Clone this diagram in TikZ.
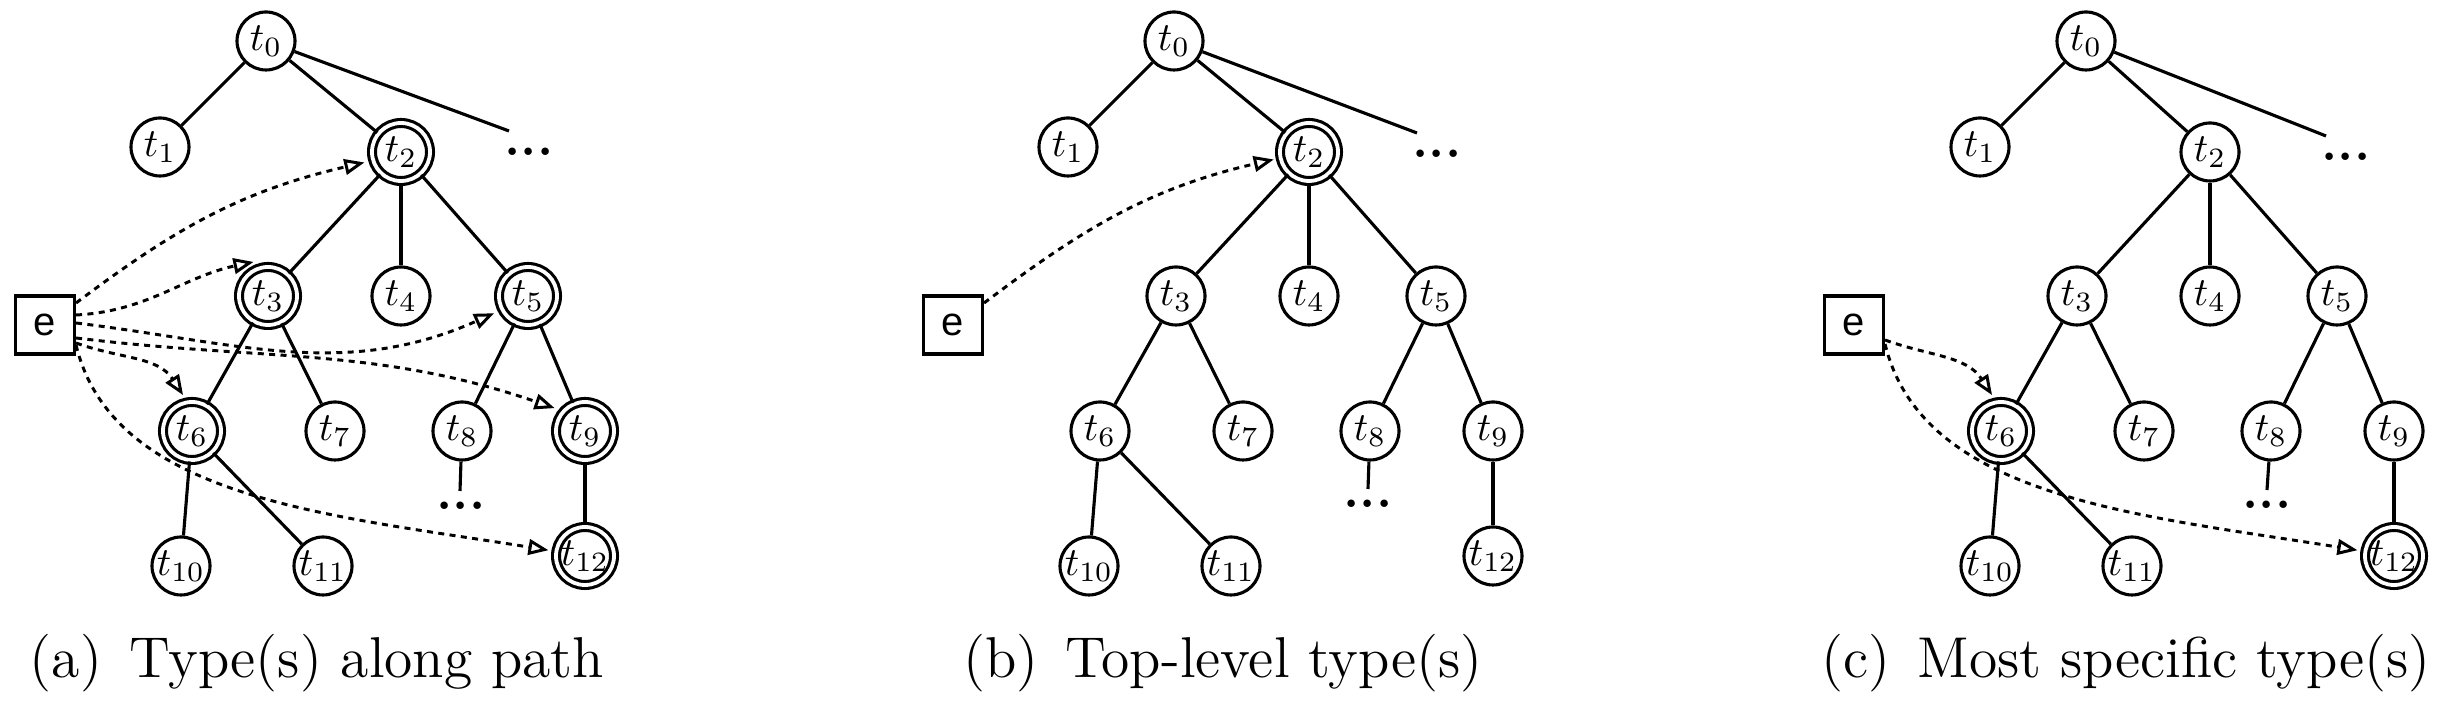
\documentclass[tikz,border=0pt]{standalone}
\usepackage{fontspec}
\newfontfamily\arialfont{Liberation Sans}
\usetikzlibrary{arrows.meta,calc}
\begin{document}
\begin{tikzpicture}[x=0.25pt,y=0.25pt,
  tn/.style={circle,draw,line width=0.78pt,minimum size=14.5pt,inner sep=0pt,font=\fontsize{10}{12}\selectfont},
  td/.style={tn,double,double distance=0.95pt},
  ebox/.style={draw,line width=0.78pt,minimum width=14.75pt,minimum height=14.5pt,inner sep=0pt,font=\arialfont\fontsize{10}{12}\selectfont},
  tline/.style={line width=0.78pt},
  dotsn/.style={inner sep=0pt,font=\bfseries\fontsize{13}{16}\selectfont},
  arr/.style={line width=0.74pt,dash pattern=on 1.5pt off 1.35pt,-{Triangle[open,length=5pt,width=3.9pt]}},
  captext/.style={anchor=base,inner sep=0pt,font=\fontsize{14.4}{17}\selectfont}]
\useasboundingbox (0,0) rectangle (2456,-702);

% ---------------- panel (a)
\node[tn] (a-t0) at (266,-41) {$t_0$};
\node[tn] (a-t1) at (160,-147) {$t_1$};
\node[td] (a-t2) at (401,-152) {$t_2$};
\node[dotsn] (a-dots) at (529,-152) {...};
\coordinate (a-end) at (509,-131);
\node[td] (a-t3) at (268,-296) {$t_3$};
\node[tn] (a-t4) at (401,-296) {$t_4$};
\node[td] (a-t5) at (528,-296) {$t_5$};
\node[td] (a-t6) at (192,-431) {$t_6$};
\node[tn] (a-t7) at (335,-431) {$t_7$};
\node[tn] (a-t8) at (462,-431) {$t_8$};
\node[td] (a-t9) at (585,-431) {$t_9$};
\node[tn] (a-t10) at (181,-566) {$t_{10}$};
\node[tn] (a-t11) at (323,-566) {$t_{11}$};
\node[td] (a-t12) at (585,-556) {$t_{12}$};
\node[dotsn] (a-d8) at (461,-506) {...};
\coordinate (a-d8e) at (460,-491);
\node[ebox] (a-e) at (45,-325) {e};
\draw[tline] (a-t0) -- (a-t1);
\draw[tline] (a-t0) -- (a-t2);
\draw[tline] (a-t0) -- (a-end);
\draw[tline] (a-t2) -- (a-t3);
\draw[tline] (a-t2) -- (a-t4);
\draw[tline] (a-t2) -- (a-t5);
\draw[tline] (a-t3) -- (a-t6);
\draw[tline] (a-t3) -- (a-t7);
\draw[tline] (a-t5) -- (a-t8);
\draw[tline] (a-t5) -- (a-t9);
\draw[tline] (a-t6) -- (a-t10);
\draw[tline] (a-t6) -- (a-t11);
\draw[tline] (a-t9) -- (a-t12);
\draw[tline] (a-t8) -- (a-d8e);
\draw[arr] ($(a-e.east)+(0,22)$) to[out=37,in=193] ($(a-t2)+(196:38)$);
\draw[arr] ($(a-e.east)+(0,10)$) to[out=3,in=192] ($(a-t3)+(113:37)$);
\draw[arr] ($(a-e.east)+(0,2)$) to[out=-7,in=204] ($(a-t5)+(207:38)$);
\draw[arr] ($(a-e.east)+(0,-13)$) to[out=-7,in=161] ($(a-t9)+(143:38)$);
\draw[arr] ($(a-e.east)+(0,-18)$) to[out=-20,in=123] ($(a-t6)+(104:37)$);
\draw[arr] ($(a-e.east)+(0,-20)$) .. controls +(37,-154) and +(-218,35) .. ($(a-t12)+(171:37)$);
\node[captext] (a-cap) at (317,-678) {(a)\hspace{0.47em}Type(s) along path};

% ---------------- panel (b)
\node[tn] (b-t0) at (1174,-41) {$t_0$};
\node[tn] (b-t1) at (1068,-147) {$t_1$};
\node[td] (b-t2) at (1309,-152) {$t_2$};
\node[dotsn] (b-dots) at (1437,-154) {...};
\coordinate (b-end) at (1417,-133);
\node[tn] (b-t3) at (1176,-296) {$t_3$};
\node[tn] (b-t4) at (1309,-296) {$t_4$};
\node[tn] (b-t5) at (1436,-296) {$t_5$};
\node[tn] (b-t6) at (1100,-431) {$t_6$};
\node[tn] (b-t7) at (1243,-431) {$t_7$};
\node[tn] (b-t8) at (1370,-431) {$t_8$};
\node[tn] (b-t9) at (1493,-431) {$t_9$};
\node[tn] (b-t10) at (1089,-566) {$t_{10}$};
\node[tn] (b-t11) at (1231,-566) {$t_{11}$};
\node[tn] (b-t12) at (1493,-556) {$t_{12}$};
\node[dotsn] (b-d8) at (1368,-504) {...};
\coordinate (b-d8e) at (1368,-489);
\node[ebox] (b-e) at (953,-325) {e};
\draw[tline] (b-t0) -- (b-t1);
\draw[tline] (b-t0) -- (b-t2);
\draw[tline] (b-t0) -- (b-end);
\draw[tline] (b-t2) -- (b-t3);
\draw[tline] (b-t2) -- (b-t4);
\draw[tline] (b-t2) -- (b-t5);
\draw[tline] (b-t3) -- (b-t6);
\draw[tline] (b-t3) -- (b-t7);
\draw[tline] (b-t5) -- (b-t8);
\draw[tline] (b-t5) -- (b-t9);
\draw[tline] (b-t6) -- (b-t10);
\draw[tline] (b-t6) -- (b-t11);
\draw[tline] (b-t9) -- (b-t12);
\draw[tline] (b-t8) -- (b-d8e);
\draw[arr] ($(b-e.east)+(0,22)$) to[out=37,in=193] ($(b-t2)+(192:36)$);
\node[captext] (b-cap) at (1223,-678) {(b)\hspace{0.47em}Top-level type(s)};

% ---------------- panel (c)
\node[tn] (c-t0) at (2086,-41) {$t_0$};
\node[tn] (c-t1) at (1980,-147) {$t_1$};
\node[tn] (c-t2) at (2210,-152) {$t_2$};
\node[dotsn] (c-dots) at (2346,-157) {...};
\coordinate (c-end) at (2326,-136);
\node[tn] (c-t3) at (2077,-296) {$t_3$};
\node[tn] (c-t4) at (2210,-296) {$t_4$};
\node[tn] (c-t5) at (2337,-296) {$t_5$};
\node[td] (c-t6) at (2001,-431) {$t_6$};
\node[tn] (c-t7) at (2144,-431) {$t_7$};
\node[tn] (c-t8) at (2271,-431) {$t_8$};
\node[tn] (c-t9) at (2394,-431) {$t_9$};
\node[tn] (c-t10) at (1990,-566) {$t_{10}$};
\node[tn] (c-t11) at (2132,-566) {$t_{11}$};
\node[td] (c-t12) at (2394,-556) {$t_{12}$};
\node[dotsn] (c-d8) at (2267,-505) {...};
\coordinate (c-d8e) at (2267,-490);
\node[ebox] (c-e) at (1854,-325) {e};
\draw[tline] (c-t0) -- (c-t1);
\draw[tline] (c-t0) -- (c-t2);
\draw[tline] (c-t0) -- (c-end);
\draw[tline] (c-t2) -- (c-t3);
\draw[tline] (c-t2) -- (c-t4);
\draw[tline] (c-t2) -- (c-t5);
\draw[tline] (c-t3) -- (c-t6);
\draw[tline] (c-t3) -- (c-t7);
\draw[tline] (c-t5) -- (c-t8);
\draw[tline] (c-t5) -- (c-t9);
\draw[tline] (c-t6) -- (c-t10);
\draw[tline] (c-t6) -- (c-t11);
\draw[tline] (c-t9) -- (c-t12);
\draw[tline] (c-t8) -- (c-d8e);
\draw[arr] ($(c-e.east)+(0,-15)$) to[out=-20,in=123] ($(c-t6)+(104:37)$);
\draw[arr] ($(c-e.east)+(0,-19)$) .. controls +(37,-154) and +(-218,35) .. ($(c-t12)+(171:37)$);
\node[captext] (c-cap) at (2126,-678) {(c)\hspace{0.47em}Most specific type(s)};
\end{tikzpicture}
\end{document}
